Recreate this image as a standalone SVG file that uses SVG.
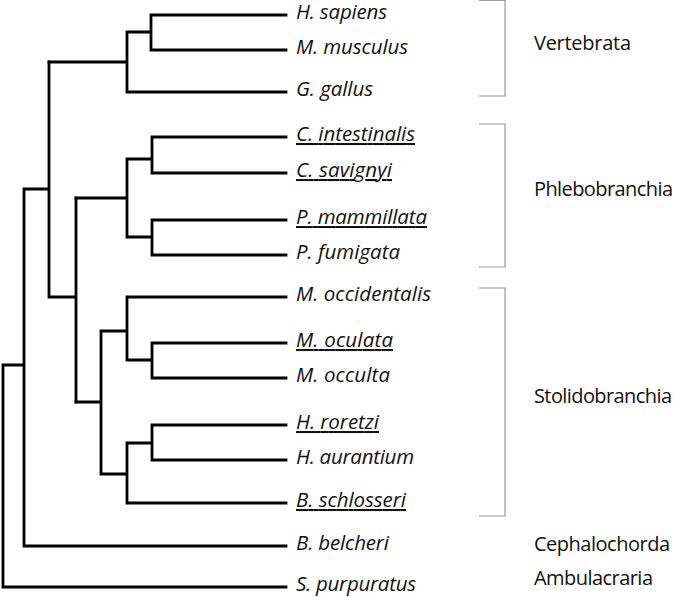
<svg xmlns="http://www.w3.org/2000/svg" width="674" height="597" viewBox="0 0 674 597">
<style>
.tree{fill:none;stroke:#000;stroke-width:2.8;stroke-linecap:square;stroke-linejoin:miter}
.br{fill:none;stroke:#9a9a9a;stroke-width:1.2}
.sp{font-family:"Open Sans","Noto Sans",sans-serif;font-style:italic;font-size:20.5px;fill:#111}
.u{text-decoration:underline}
.cl{font-family:"Open Sans","Noto Sans",sans-serif;font-size:20px;fill:#111}
</style>
<rect width="674" height="597" fill="#fff"/>
<g id="connectors">
<path class="tree" d="M286 15H151V50H286M151 32H127V92H286M127 62H49"/>
<path class="tree" d="M286 137H152V173H286M152 159H127V237H152M286 220H152V255H286M127 198H76"/>
<path class="tree" d="M286 343H152V378H286M152 360H127V297H286M127 331H101V474H127M286 425H152V460H286M152 443H127V503H286M101 402H76"/>
<path class="tree" d="M76 198V402M76 297H49M49 62V297M49 189H24V546H286M24 365H3V587H286"/>
<path class="br" d="M479 0.5H505V96H479"/>
<path class="br" d="M479 124H505V267H479"/>
<path class="br" d="M479 288H505V516H479"/>
</g>
<g id="leaf-h-sapiens"><text class="sp" x="296" y="19" textLength="91">H. sapiens</text></g>
<g id="leaf-m-musculus"><text class="sp" x="296" y="54" textLength="112">M. musculus</text></g>
<g id="leaf-g-gallus"><text class="sp" x="296" y="96" textLength="77">G. gallus</text></g>
<g id="leaf-c-intestinalis"><text class="sp u" x="296" y="141" textLength="119">C. intestinalis</text></g>
<g id="leaf-c-savignyi"><text class="sp u" x="296" y="177" textLength="96">C. savignyi</text></g>
<g id="leaf-p-mammillata"><text class="sp u" x="296" y="224" textLength="131">P. mammillata</text></g>
<g id="leaf-p-fumigata"><text class="sp" x="296" y="259" textLength="104">P. fumigata</text></g>
<g id="leaf-m-occidentalis"><text class="sp" x="296" y="301" textLength="135">M. occidentalis</text></g>
<g id="leaf-m-oculata"><text class="sp u" x="296" y="347" textLength="97">M. oculata</text></g>
<g id="leaf-m-occulta"><text class="sp" x="296" y="382" textLength="94">M. occulta</text></g>
<g id="leaf-h-roretzi"><text class="sp u" x="296" y="429" textLength="83">H. roretzi</text></g>
<g id="leaf-h-aurantium"><text class="sp" x="296" y="464" textLength="118">H. aurantium</text></g>
<g id="leaf-b-schlosseri"><text class="sp u" x="296" y="507" textLength="110">B. schlosseri</text></g>
<g id="leaf-b-belcheri"><text class="sp" x="296" y="550" textLength="93">B. belcheri</text></g>
<g id="leaf-s-purpuratus"><text class="sp" x="296" y="591" textLength="120">S. purpuratus</text></g>
<g id="clade-vertebrata"><text class="cl" x="534" y="50" textLength="97">Vertebrata</text></g>
<g id="clade-phlebobranchia"><text class="cl" x="534" y="196" textLength="139">Phlebobranchia</text></g>
<g id="clade-stolidobranchia"><text class="cl" x="534" y="403" textLength="138">Stolidobranchia</text></g>
<g id="clade-cephalochorda"><text class="cl" x="534" y="551" textLength="136">Cephalochorda</text></g>
<g id="clade-ambulacraria"><text class="cl" x="534" y="585" textLength="119">Ambulacraria</text></g>
</svg>
